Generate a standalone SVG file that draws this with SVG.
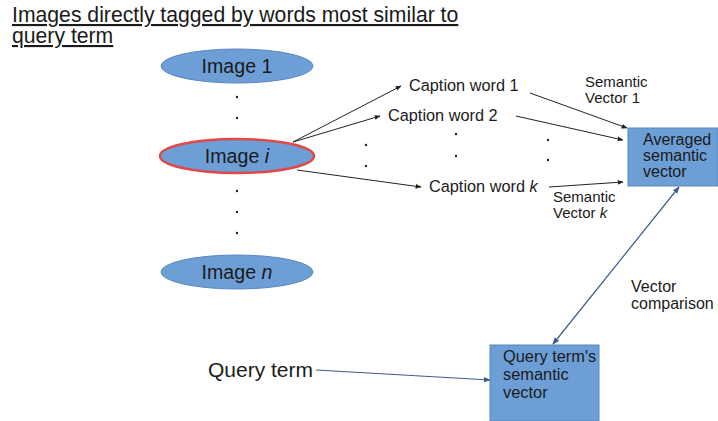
<svg xmlns="http://www.w3.org/2000/svg" width="718" height="421" viewBox="0 0 718 421">
  <style>
    text { font-family: "Liberation Sans", Arial, sans-serif; fill: #1a1a1a; }
    .title { font-size: 21.2px; text-decoration: underline; }
    .img { font-size: 19.6px; text-anchor: middle; }
    .cap { font-size: 16.3px; }
    .lbl { font-size: 15px; }
    .box { font-size: 16px; }
    .qbox { font-size: 16.4px; }
    .node { fill: #6d9fd6; stroke: #5b87c0; stroke-width: 1; }
    .sel { fill: #6d9fd6; stroke: #e04848; stroke-width: 2.5; }
    .dot { fill: #222; }
    .edge { stroke: #222; stroke-width: 1; fill: none; marker-end: url(#ah); }
    .blue { stroke: #3b5a8a; marker-end: url(#ahb); }
    .cmp { stroke: #3b5a8a; stroke-width: 1.2; fill: none; marker-start: url(#ahb); marker-end: url(#ahb); }
  </style>
  <defs>
    <marker id="ah" viewBox="0 0 10 10" refX="9" refY="5" markerWidth="6" markerHeight="6" orient="auto-start-reverse" markerUnits="userSpaceOnUse">
      <path d="M0,1 L10,5 L0,9 z" fill="#222"/>
    </marker>
    <marker id="ahb" viewBox="0 0 10 10" refX="9" refY="5" markerWidth="7" markerHeight="7" orient="auto-start-reverse" markerUnits="userSpaceOnUse">
      <path d="M0,1 L10,5 L0,9 z" fill="#3b5a8a"/>
    </marker>
  </defs>

  <rect width="718" height="421" fill="#ffffff"/>

  <g id="title">
    <text class="title" x="12" y="22">Images directly tagged by words most similar to</text>
    <text class="title" x="12" y="43">query term</text>
  </g>

  <g id="image-1">
    <ellipse class="node" cx="237" cy="66" rx="76" ry="17"/>
    <text class="img" x="237" y="73">Image 1</text>
  </g>
  <g id="image-i">
    <ellipse class="sel" cx="237" cy="156" rx="77" ry="17"/>
    <text class="img" x="237" y="163">Image <tspan font-style="italic">i</tspan></text>
  </g>
  <g id="image-n">
    <ellipse class="node" cx="237" cy="272" rx="76" ry="17"/>
    <text class="img" x="237" y="279">Image <tspan font-style="italic">n</tspan></text>
  </g>

  <g id="ellipsis-dots">
    <circle class="dot" cx="237" cy="97" r="1.2"/>
    <circle class="dot" cx="237" cy="118" r="1.2"/>
    <circle class="dot" cx="237" cy="191" r="1.2"/>
    <circle class="dot" cx="237" cy="212" r="1.2"/>
    <circle class="dot" cx="237" cy="233" r="1.2"/>
    <circle class="dot" cx="366" cy="145" r="1.2"/>
    <circle class="dot" cx="366" cy="166" r="1.2"/>
    <circle class="dot" cx="456" cy="134" r="1.2"/>
    <circle class="dot" cx="456" cy="156" r="1.2"/>
    <circle class="dot" cx="548" cy="140" r="1.2"/>
    <circle class="dot" cx="548" cy="160" r="1.2"/>
  </g>

  <g id="caption-1"><text class="cap" x="409" y="91">Caption word 1</text></g>
  <g id="caption-2"><text class="cap" x="388" y="121">Caption word 2</text></g>
  <g id="caption-k"><text class="cap" x="429" y="192">Caption word <tspan font-style="italic">k</tspan></text></g>

  <g id="averaged-vector">
    <rect class="node" x="628" y="128" width="90" height="58"/>
    <text class="box" x="643" y="145">Averaged</text>
    <text class="box" x="643" y="161">semantic</text>
    <text class="box" x="643" y="177">vector</text>
  </g>

  <g id="query-term"><text style="font-size:21px" x="208" y="377">Query term</text></g>

  <g id="query-vector">
    <rect class="node" x="490" y="345" width="109" height="76"/>
    <text class="qbox" x="503" y="362">Query term's</text>
    <text class="qbox" x="503" y="380">semantic</text>
    <text class="qbox" x="503" y="398">vector</text>
  </g>

  <g id="labels">
    <text class="lbl" x="585" y="87">Semantic</text>
    <text class="lbl" x="585" y="103">Vector 1</text>
    <text class="lbl" x="553" y="202">Semantic</text>
    <text class="lbl" x="553" y="218">Vector <tspan font-style="italic">k</tspan></text>
    <text style="font-size:16px" x="631" y="292">Vector</text>
    <text style="font-size:16px" x="631" y="309">comparison</text>
  </g>

  <g id="connectors">
    <line class="edge" x1="293" y1="142" x2="401" y2="86"/>
    <line class="edge" x1="293" y1="142" x2="380" y2="116"/>
    <line class="edge" x1="297" y1="170" x2="421" y2="187"/>
    <line class="edge" x1="530" y1="93" x2="627" y2="128"/>
    <line class="edge" x1="516" y1="116" x2="623" y2="140"/>
    <line class="edge" x1="549" y1="187" x2="623" y2="182"/>
    <line class="edge blue" x1="316" y1="370" x2="490" y2="380"/>
    <line class="cmp" x1="553" y1="344" x2="679" y2="187"/>
  </g>
</svg>
